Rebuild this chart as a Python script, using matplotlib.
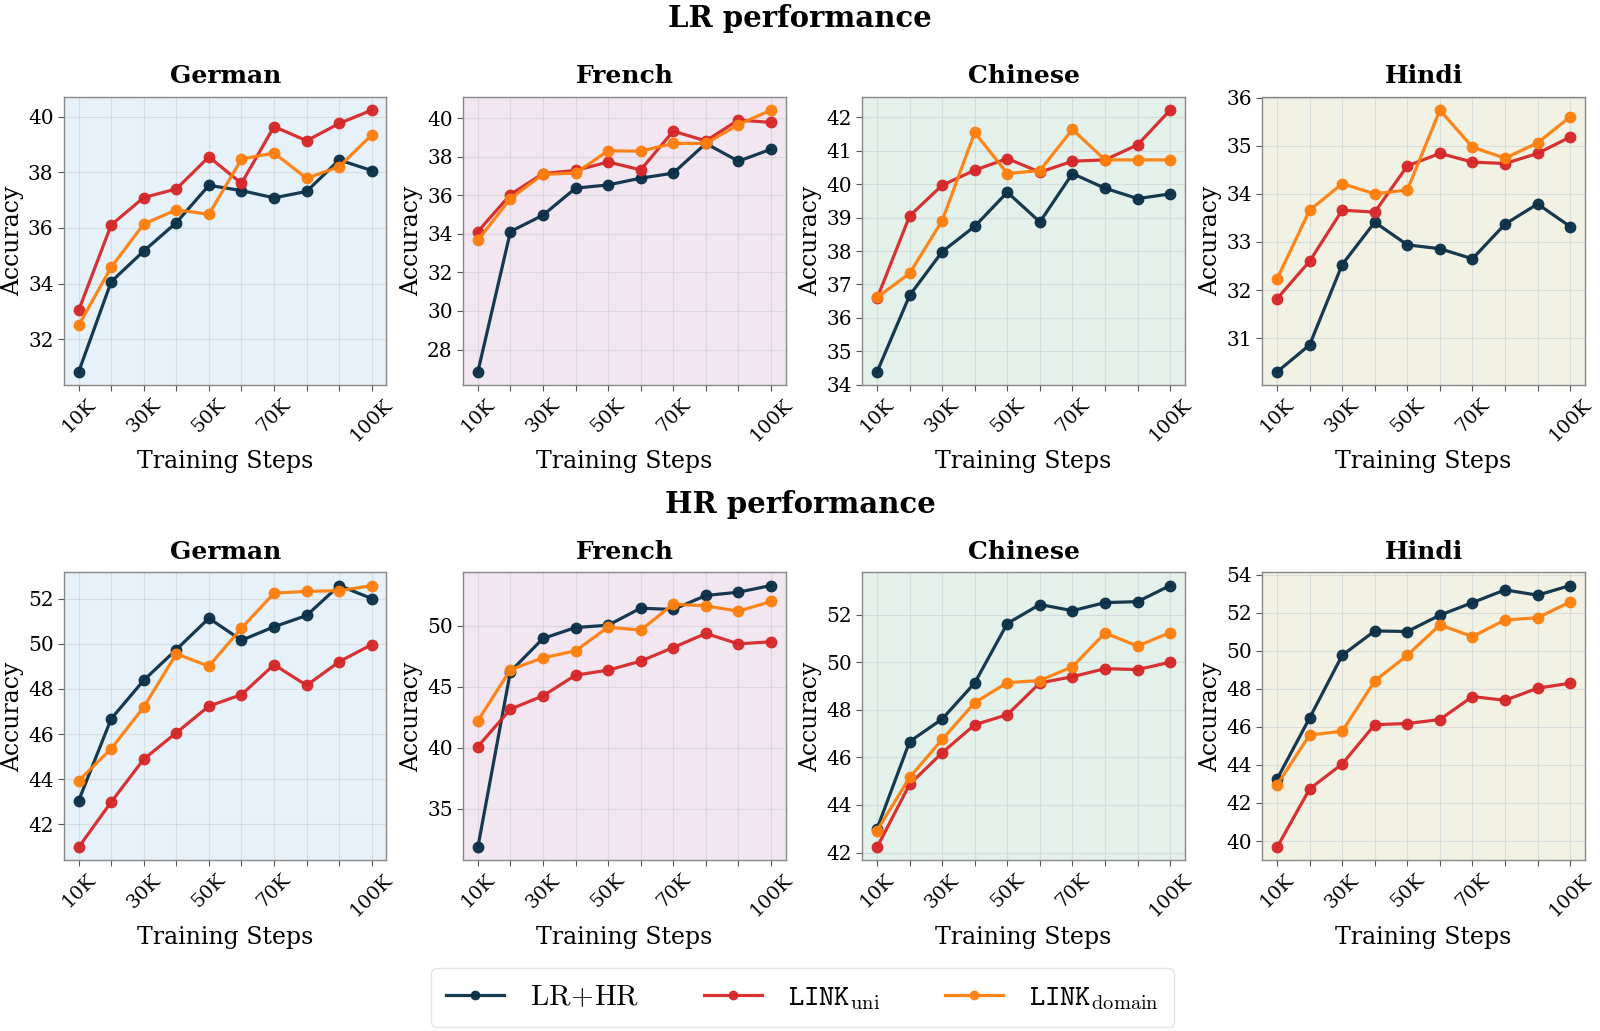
import matplotlib
matplotlib.use("Agg")
import matplotlib.pyplot as plt
from matplotlib.ticker import MultipleLocator
import numpy as np

plt.rcParams['font.family'] = ['DejaVu Serif']
plt.rcParams['mathtext.fontset'] = 'cm'

steps = [10, 20, 30, 40, 50, 60, 70, 80, 90, 100]
tick_labels = ['10K', '', '30K', '', '50K', '', '70K', '', '', '100K']
languages = ['German', 'French', 'Chinese', 'Hindi']
series_names = ['LR+HR', 'LINK_uni', 'LINK_domain']

# LR performance
lr_german_lrhr = [30.83, 34.07, 35.17, 36.19, 37.53, 37.34, 37.08, 37.31, 38.44, 38.06]
lr_german_uni = [33.04, 36.11, 37.09, 37.40, 38.55, 37.60, 39.64, 39.13, 39.75, 40.23]
lr_german_dom = [32.50, 34.59, 36.14, 36.65, 36.49, 38.47, 38.69, 37.78, 38.20, 39.34]

lr_french_lrhr = [26.84, 34.12, 34.97, 36.37, 36.54, 36.89, 37.15, 38.69, 37.77, 38.39]
lr_french_uni = [34.12, 36.04, 37.13, 37.29, 37.73, 37.32, 39.33, 38.82, 39.91, 39.78]
lr_french_dom = [33.67, 35.83, 37.09, 37.15, 38.31, 38.29, 38.69, 38.69, 39.67, 40.42]

lr_chinese_lrhr = [34.38, 36.67, 37.98, 38.74, 39.76, 38.87, 40.32, 39.88, 39.57, 39.71]
lr_chinese_uni = [36.58, 39.05, 39.97, 40.42, 40.77, 40.36, 40.69, 40.73, 41.18, 42.22]
lr_chinese_dom = [36.61, 37.33, 38.91, 41.55, 40.32, 40.41, 41.64, 40.73, 40.73, 40.73]

lr_hindi_lrhr = [30.30, 30.86, 32.53, 33.41, 32.94, 32.86, 32.65, 33.37, 33.79, 33.32]
lr_hindi_uni = [31.82, 32.60, 33.66, 33.62, 34.58, 34.84, 34.66, 34.63, 34.84, 35.18]
lr_hindi_dom = [32.23, 33.66, 34.21, 34.00, 34.08, 35.74, 34.97, 34.74, 35.06, 35.60]

# HR performance
hr_german_lrhr = [43.05, 46.68, 48.39, 49.75, 51.14, 50.16, 50.76, 51.26, 52.59, 52.01]
hr_german_uni = [40.98, 42.99, 44.89, 46.06, 47.24, 47.75, 49.08, 48.16, 49.21, 49.97]
hr_german_dom = [43.93, 45.35, 47.20, 49.56, 49.01, 50.70, 52.25, 52.33, 52.36, 52.58]

hr_french_lrhr = [31.82, 46.25, 48.96, 49.86, 50.05, 51.45, 51.34, 52.49, 52.76, 53.31]
hr_french_uni = [40.09, 43.16, 44.25, 45.95, 46.36, 47.10, 48.22, 49.37, 48.52, 48.69]
hr_french_dom = [42.20, 46.41, 47.37, 47.95, 49.89, 49.64, 51.78, 51.64, 51.20, 52.00]

hr_chinese_lrhr = [43.00, 46.67, 47.62, 49.14, 51.64, 52.44, 52.18, 52.52, 52.56, 53.24]
hr_chinese_uni = [42.22, 44.87, 46.20, 47.38, 47.80, 49.14, 49.40, 49.74, 49.70, 50.01]
hr_chinese_dom = [42.92, 45.16, 46.76, 48.31, 49.15, 49.24, 49.82, 51.24, 50.69, 51.26]

hr_hindi_lrhr = [43.26, 46.47, 49.77, 51.05, 51.02, 51.88, 52.54, 53.21, 52.93, 53.44]
hr_hindi_uni = [39.67, 42.74, 44.05, 46.12, 46.18, 46.39, 47.60, 47.40, 48.04, 48.30]
hr_hindi_dom = [42.95, 45.58, 45.77, 48.42, 49.77, 51.37, 50.75, 51.63, 51.74, 52.58]

lr_data = [
    [lr_german_lrhr, lr_german_uni, lr_german_dom],
    [lr_french_lrhr, lr_french_uni, lr_french_dom],
    [lr_chinese_lrhr, lr_chinese_uni, lr_chinese_dom],
    [lr_hindi_lrhr, lr_hindi_uni, lr_hindi_dom],
]
hr_data = [
    [hr_german_lrhr, hr_german_uni, hr_german_dom],
    [hr_french_lrhr, hr_french_uni, hr_french_dom],
    [hr_chinese_lrhr, hr_chinese_uni, hr_chinese_dom],
    [hr_hindi_lrhr, hr_hindi_uni, hr_hindi_dom],
]
# y tick spacing per panel (row: LR, HR)
ytick_steps = [[2, 2, 1, 1], [2, 5, 2, 2]]

colors = ['#0a2f47', '#d62728', '#ff7f0e']
bg_colors = ['#e6f1fa', '#f2e6f1', '#e3f1ea', '#f1f1e4']
legend_labels = [r'$\mathrm{LR\!+\!HR}$', r'$\mathtt{LINK}_{\mathrm{uni}}$', r'$\mathtt{LINK}_{\mathrm{domain}}$']

fig = plt.figure(figsize=(16, 10.31), dpi=100)

lefts = [0.040, 0.2895, 0.539, 0.789]
width = 0.2015
row_bottoms = [0.6266, 0.1655]
height = 0.2793

handles = None
for r, data in enumerate([lr_data, hr_data]):
    for c in range(4):
        ax = fig.add_axes([lefts[c], row_bottoms[r], width, height])
        ax.set_facecolor(bg_colors[c])
        hs = []
        for s in range(3):
            h, = ax.plot(steps, data[c][s], color=colors[s], lw=2.3, marker='o',
                         markersize=7.5, alpha=0.95, zorder=3 + s * 0.1)
            hs.append(h)
        handles = hs
        ax.set_xticks(steps)
        ax.set_xticklabels(tick_labels, rotation=45, fontsize=14)
        ax.yaxis.set_major_locator(MultipleLocator(ytick_steps[r][c]))
        ax.tick_params(axis='y', labelsize=14.5)
        ax.tick_params(axis='both', color='#555555', length=4)
        ax.grid(True, color='#c8ccd0', alpha=0.55, lw=0.8)
        ax.set_axisbelow(True)
        for sp in ax.spines.values():
            sp.set_color('#888888')
            sp.set_linewidth(1.0)
        ax.set_xlabel('Training Steps', fontsize=17)
        ax.set_ylabel('Accuracy', fontsize=17, labelpad=3)
        ax.set_title(languages[c], fontsize=18, fontweight='bold', pad=10)

fig.text(0.5, 0.982, 'LR performance', ha='center', va='center', fontsize=21, fontweight='bold')
fig.text(0.5, 0.511, 'HR performance', ha='center', va='center', fontsize=21, fontweight='bold')

leg = fig.legend(handles, legend_labels, loc='center', bbox_to_anchor=(0.5016, 0.0325),
                 ncol=3, fontsize=21, frameon=True, fancybox=True, handlelength=2.0,
                 columnspacing=2.2, borderpad=0.5, handletextpad=0.9)
for lh in leg.legend_handles:
    lh.set_markersize(6)
leg.get_frame().set_edgecolor('#dddddd')
leg.get_frame().set_linewidth(1.0)

fig.savefig('out.png', dpi=100)
